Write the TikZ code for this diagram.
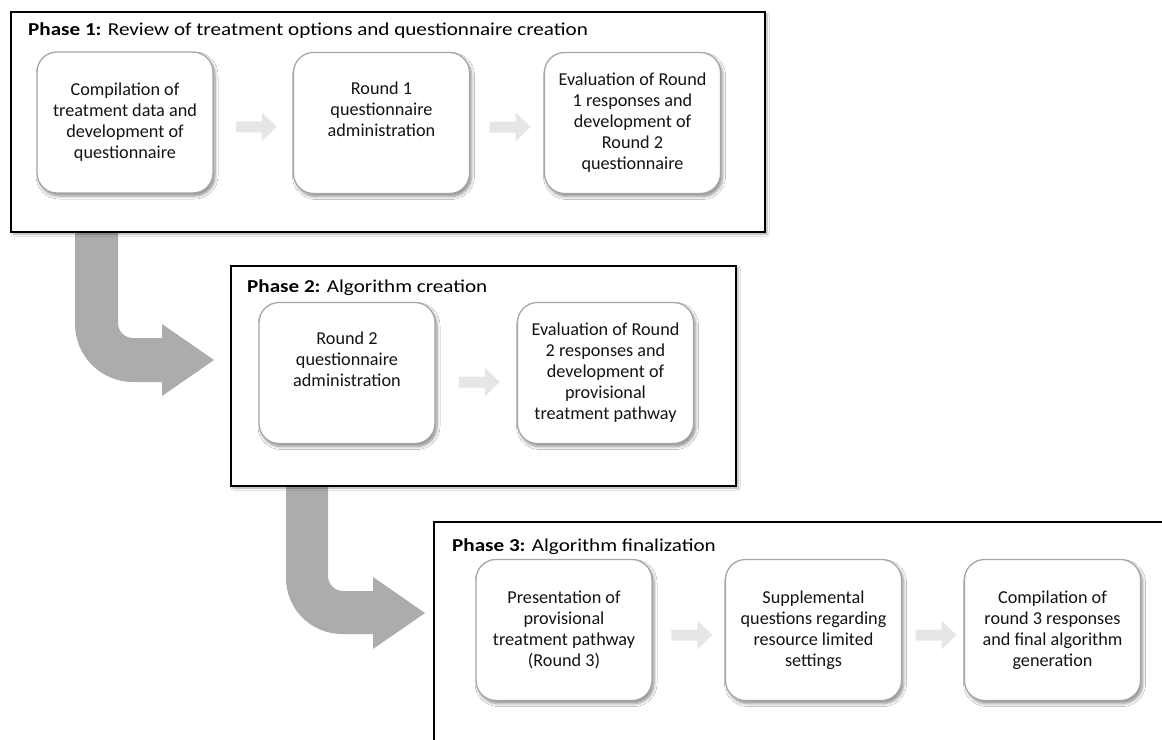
\documentclass[tikz,border=0pt]{standalone}
\usepackage{fontspec}
\setmainfont{Carlito}
\newfontfamily\titlefont[FakeStretch=1.16]{Carlito}
\usetikzlibrary{shadows.blur,calc}
\definecolor{bigarr}{HTML}{AEABAB}
\definecolor{smallarr}{HTML}{E7E6E6}
\definecolor{boxline}{HTML}{A6A6A6}
\definecolor{txt}{HTML}{141414}
\begin{document}
\begin{tikzpicture}[x=1pt,y=-1pt,
 stepbox/.style={draw=boxline, line width=1.3pt, fill=white, rounded corners=20pt,
   minimum width=176pt, minimum height=141pt, align=center,
   inner sep=0pt, text=txt, font=\fontsize{18.2}{21}\selectfont,
   blur shadow={shadow xshift=2pt, shadow yshift=-3pt, shadow blur steps=6, shadow blur radius=3pt, shadow opacity=45}},
 phasebox/.style={draw=black, line width=1.4pt, fill=white, inner sep=0pt,
   blur shadow={shadow xshift=2pt, shadow yshift=-2pt, shadow blur steps=4, shadow blur radius=2pt, shadow opacity=35}},
 phasetitle/.style={anchor=base west, inner sep=0pt, text=black, font=\titlefont\fontsize{18.2}{22}\selectfont},
 bent/.style={fill=bigarr},
 sarrow/.pic={\fill[smallarr] (-20.5,-5.5) -- (5.5,-5.5) -- (5.5,-14.5) -- (20.5,0) -- (5.5,14.5) -- (5.5,5.5) -- (-20.5,5.5) -- cycle;}
]
\clip (0,0) rectangle (1162,739);
\fill[white] (0,0) rectangle (1162,739);

% bent arrows (behind the phase boxes)
\fill[bent] (75,225) -- (118,225) -- (118,323) .. controls (118,331.3) and (124.7,338) .. (133,338)
  -- (162,338) -- (162,324) -- (214,360) -- (162,396) -- (162,382) -- (133,382)
  .. controls (101,382) and (75,356) .. (75,324) -- cycle;
\fill[bent] (286,478) -- (328,478) -- (328,576) .. controls (328,584.3) and (334.7,591) .. (343,591)
  -- (373,591) -- (373,577) -- (425,613) -- (373,649) -- (373,634) -- (342,634)
  .. controls (311,634) and (286,609) .. (286,578) -- cycle;

% phase frames
\node[phasebox, minimum width=754pt, minimum height=220pt] (p1) at (388,122) {};
\node[phasebox, minimum width=505pt, minimum height=220pt] (p2) at (483.5,376) {};
\node[phasebox, minimum width=780pt, minimum height=260pt] (p3) at (824,652) {};

\node[phasetitle] (t1) at (28,35) {\textbf{Phase 1:} Review of treatment options and questionnaire creation};
\node[phasetitle] (t2) at (247,292) {\textbf{Phase 2:} Algorithm creation};
\node[phasetitle] (t3) at (452,551) {\textbf{Phase 3:} Algorithm finalization};

% Phase 1 steps
\node[stepbox] (b11) at (125,122.5) {Compilation of\\treatment data and\\development of\\questionnaire};
\node[stepbox] (b12) at (381.5,123) {Round 1\\questionnaire\\administration\\\strut};
\node[stepbox] (b13) at (632.5,123) {Evaluation of Round\\1 responses and\\development of\\Round 2\\questionnaire};

% Phase 2 steps
\node[stepbox] (b21) at (347,373) {Round 2\\questionnaire\\administration\\\strut};
\node[stepbox] (b22) at (605.5,373) {Evaluation of Round\\2 responses and\\development of\\provisional\\treatment pathway};

% Phase 3 steps
\node[stepbox] (b31) at (564,630) {Presentation of\\provisional\\treatment pathway\\(Round 3)};
\node[stepbox] (b32) at (813.5,630) {Supplemental\\questions regarding\\resource limited\\settings};
\node[stepbox] (b33) at (1052.5,630) {Compilation of\\round 3 responses\\and final algorithm\\generation};

% small arrows
\pic at ($(b11.east)!0.5!(b12.west)+(3,4)$) {sarrow};
\pic at ($(b12.east)!0.5!(b13.west)+(3,4)$) {sarrow};
\pic at ($(b21.east)!0.5!(b22.west)+(3,9)$) {sarrow};
\pic at ($(b31.east)!0.5!(b32.west)+(3,5)$) {sarrow};
\pic at ($(b32.east)!0.5!(b33.west)+(3,5)$) {sarrow};
\end{tikzpicture}
\end{document}
